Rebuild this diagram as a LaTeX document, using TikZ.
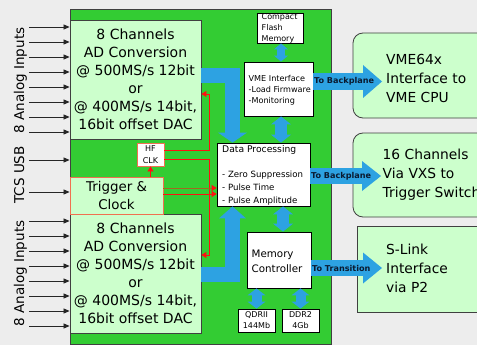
\documentclass[tikz,border=0pt]{standalone}
\usepackage{fontspec}
\setmainfont{DejaVu Sans}
\usetikzlibrary{arrows.meta}
\definecolor{bgc}{HTML}{EDEDED}
\definecolor{boardc}{HTML}{33CC33}
\definecolor{lgreen}{HTML}{CCFFCC}
\definecolor{bordergray}{HTML}{404040}
\definecolor{bluearr}{HTML}{2DA2E2}
\definecolor{navyc}{HTML}{0A1A30}
\definecolor{trigred}{HTML}{F07050}
\definecolor{olivec}{HTML}{A06A20}
\definecolor{redc}{HTML}{FF1010}
\newcommand\setfs[2]{\fontsize{#1}{#2}\selectfont}
\begin{document}
\begin{tikzpicture}[x=1pt,y=-1pt,
  box/.style={draw=bordergray, line width=0.8pt, inner sep=0pt},
  txt/.style={inner sep=0pt, text=black},
  lbl/.style={inner sep=0pt, text=navyc, font=\bfseries\setfs{8.1}{10}},
  sidelbl/.style={inner sep=0pt, rotate=90, anchor=base, font=\setfs{13.5}{16}},
  inarrow/.style={draw=black!85, line width=0.7pt, -{Triangle[length=6pt,width=5pt]}},
  redline/.style={draw=redc, line width=0.8pt, -{Triangle[length=5pt,width=6pt]}},
  bluebus/.style={draw=bluearr, line join=miter},
  dtip/.style={{Triangle[length=#1]}-{Triangle[length=#1]}},
]
\useasboundingbox (0,0) rectangle (477,345);
\fill[bgc] (0,0) rectangle (477,345);

% board
\node[box, fill=boardc, minimum width=261pt, minimum height=335pt] (board) at (200.5,176.5) {};

% left side labels
\node[sidelbl] (lblA) at (24,80.5) {8 Analog Inputs};
\node[sidelbl] (lblT) at (24,175) {TCS USB};
\node[sidelbl] (lblB) at (24,273.5) {8 Analog Inputs};

% ADC boxes
\node[box, fill=lgreen, minimum width=131pt, minimum height=119pt, align=center, font=\setfs{14}{18}] (adcA) at (135.5,79.5)
 {8 Channels\\AD Conversion\\@ 500MS/s 12bit\\or\\@ 400MS/s 14bit,\\16bit offset DAC};
\node[box, fill=lgreen, minimum width=131pt, minimum height=119pt, align=center, font=\setfs{14}{18}] (adcB) at (135.5,273.5)
 {8 Channels\\AD Conversion\\@ 500MS/s 12bit\\or\\@ 400MS/s 14bit,\\16bit offset DAC};

% trigger & HF clk
\node[box, draw=trigred, fill=lgreen, minimum width=93pt, minimum height=37pt, align=center, font=\setfs{13.4}{18}] (trig) at (116.5,195.5) {Trigger \&\\Clock};
\node[box, draw=trigred, fill=white, minimum width=27pt, minimum height=23pt, align=center, font=\setfs{8}{12}] (hf) at (150.5,154.5) {HF\\CLK};

% data processing
\node[box, draw=black, fill=white, minimum width=93pt, minimum height=63pt] (dp) at (263.5,174.5) {};
\node[txt, anchor=west, font=\setfs{9.2}{11}] (dpt) at (222,150) {Data Processing};
\node[txt, anchor=west, align=left, font=\setfs{8.6}{13}] (dpl) at (222,188) {- Zero Suppression\\- Pulse Time\\- Pulse Amplitude};

% VME interface
\node[box, draw=black, fill=white, minimum width=69pt, minimum height=54pt] (vme) at (278.5,89) {};
\node[txt, anchor=west, align=left, font=\setfs{8.1}{11}] (vmet) at (248.5,90) {VME Interface\\-Load Firmware\\-Monitoring};

% compact flash
\node[box, draw=black, fill=white, minimum width=46pt, minimum height=30pt] (cf) at (280,28) {};
\node[txt, anchor=west, align=left, font=\setfs{8}{10.7}] (cft) at (261.5,28.5) {Compact\\Flash\\Memory};

% memory controller
\node[box, draw=black, fill=white, minimum width=64pt, minimum height=56pt] (mc) at (279,260) {};
\node[txt, anchor=west, align=left, font=\setfs{10.3}{15}] (mct) at (251.5,261) {Memory\\Controller};

% memories
\node[box, draw=black, fill=white, minimum width=37pt, minimum height=23pt, align=center, font=\setfs{8}{11}] (qdr) at (256.5,320.5) {QDRII\\144Mb};
\node[box, draw=black, fill=white, minimum width=37pt, minimum height=23pt, align=center, font=\setfs{8}{11}] (ddr) at (300.5,320.5) {DDR2\\4Gb};

% right boxes
\node[box, fill=lgreen, rounded corners=10pt, minimum width=142pt, minimum height=85pt] (r1) at (424,75.5) {};
\node[txt, anchor=west, align=left, font=\setfs{13.8}{19}] (r1t) at (386,78) {VME64x\\Interface to\\VME CPU};
\node[box, fill=lgreen, rounded corners=10pt, minimum width=142pt, minimum height=84pt] (r2) at (424,175) {};
\node[txt, anchor=west, align=left, font=\setfs{13.8}{19}] (r2t) at (382.5,174.5) {16 Channels\\Via VXS to\\Trigger Switch};
\node[box, fill=lgreen, minimum width=138pt, minimum height=86pt] (r3) at (426,269) {};
\node[txt, anchor=west, align=left, font=\setfs{13.8}{19}] (r3t) at (386,268) {S-Link\\Interface\\via P2};

% analog input arrows
\foreach \i in {0,...,7} {
  \coordinate (ia\i) at (29,27+15*\i);
  \draw[inarrow] (ia\i) -- (ia\i -| adcA.west);
  \coordinate (ib\i) at (29,221+15*\i);
  \draw[inarrow] (ib\i) -- (ib\i -| adcB.west);
}
\coordinate (usb) at (29,160);
\draw[inarrow] (usb) -- (usb -| board.west);
\coordinate (tcs) at (29,192);
\draw[inarrow] (tcs) -- (tcs -| trig.west);

% red clock lines
\coordinate (cA) at (209,150);
\coordinate (cB) at (209,159);
\coordinate (cAa) at (209,94);
\coordinate (cBb) at (209,255);
\draw[redline] (hf.east |- cA) -- (cA) -- (cAa) -- (cAa -| adcA.east);
\draw[redline] (hf.east |- cB) -- (cB) -- (cBb) -- (cBb -| adcB.east);
\draw[redline] (hf.south |- trig.north) -- (hf.south);
\coordinate (pt) at (0,188);
\coordinate (pa) at (0,194);
\draw[redline, draw=olivec, -{Triangle[length=5pt,width=6pt,color=redc]}] (trig.east |- pt) -- (dp.west |- pt);
\draw[redline] (trig.east |- pa) -- (dp.west |- pa);

% blue data buses
\coordinate (bA) at (232.5,76);
\coordinate (bB) at (232.5,274.5);
\draw[bluebus, line width=15pt, -{Triangle[length=10pt,width=29pt,line width=0pt]}] (adcA.east |- bA) -- (bA) -- (bA |- dp.north);
\draw[bluebus, line width=15pt, -{Triangle[length=12pt,width=27pt,line width=0pt]}] (adcB.east |- bB) -- (bB) -- (bB |- dp.south);

\draw[bluebus, line width=8pt, {Triangle[length=6pt,width=14pt,line width=0pt]}-{Triangle[length=6pt,width=14pt,line width=0pt]}] ([xshift=1pt]cf.south) -- ([xshift=1pt]cf.south |- vme.north);
\coordinate (vd) at ([xshift=2.5pt]vme.south);
\draw[bluebus, line width=12pt, {Triangle[length=8pt,width=20pt,line width=0pt]}-{Triangle[length=8pt,width=20pt,line width=0pt]}] (vd) -- (vd |- dp.north);
\coordinate (dm) at ([xshift=4pt]mc.north);
\draw[bluebus, line width=12pt, {Triangle[length=8pt,width=20pt,line width=0pt]}-{Triangle[length=8pt,width=20pt,line width=0pt]}] (dm |- dp.south) -- (dm);
\draw[bluebus, line width=10pt, {Triangle[length=7pt,width=18pt,line width=0pt]}-{Triangle[length=7pt,width=18pt,line width=0pt]}] (qdr.north |- mc.south) -- (qdr.north);
\draw[bluebus, line width=10pt, {Triangle[length=7pt,width=18pt,line width=0pt]}-{Triangle[length=7pt,width=18pt,line width=0pt]}] (ddr.north |- mc.south) -- (ddr.north);

\coordinate (t1) at (382,81.5);
\coordinate (t2) at (381,176);
\coordinate (t3) at (382,268);
\draw[bluebus, line width=17pt, -{Triangle[length=19pt,width=33pt,line width=0pt]}] (vme.east |- t1) -- (t1);
\draw[bluebus, line width=16pt, -{Triangle[length=19pt,width=30pt,line width=0pt]}] (dp.east |- t2) -- (t2);
\draw[bluebus, line width=16pt, -{Triangle[length=19pt,width=31pt,line width=0pt]}] (mc.east |- t3) -- (t3);

\node[lbl, anchor=west] (l1) at ([xshift=0.5pt]vme.east |- t1) {To Backplane};
\node[lbl, anchor=west] (l2) at ([xshift=0.5pt]dp.east |- t2) {To Backplane};
\node[lbl, anchor=west] (l3) at ([xshift=0.5pt]mc.east |- t3) {To Transition};
\end{tikzpicture}
\end{document}
